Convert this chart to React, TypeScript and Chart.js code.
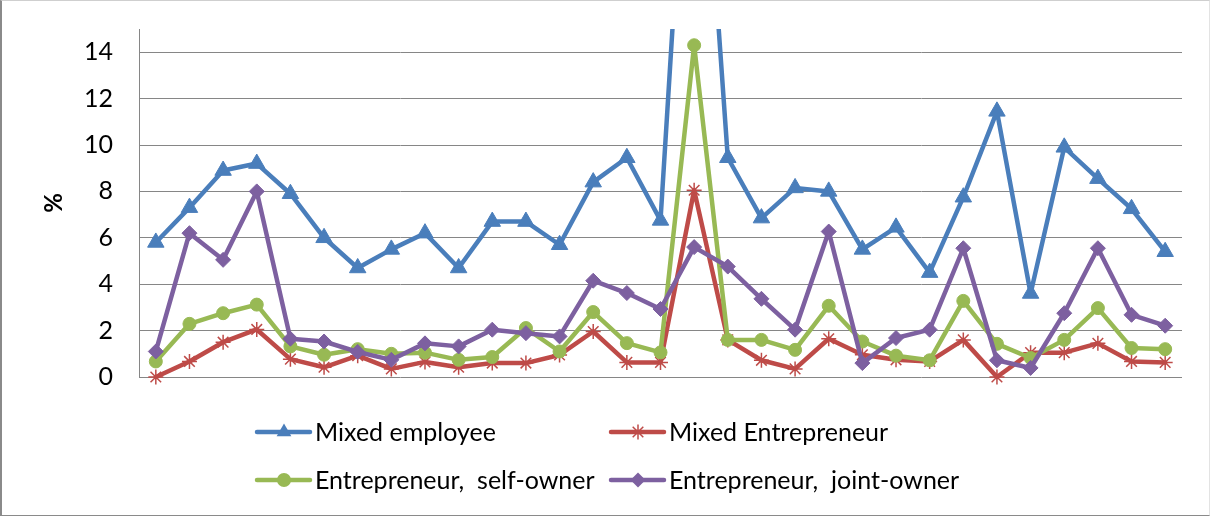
import React, { useEffect, useRef } from "react";
import { Chart, registerables } from "chart.js";

Chart.register(...registerables);

const categories = ["1","2","3","4","5","6","7","8","9","10","11","12","13","14","15","16","17","18","19","20","21","22","23","24","25","26","27","28","29","30","31"];

const mixedEmployee = [5.8, 7.3, 8.9, 9.2, 7.9, 6.0, 4.7, 5.5, 6.2, 4.7, 6.7, 6.7, 5.7, 8.4, 9.45, 6.75, 30, 9.45, 6.85, 8.15, 8.0, 5.5, 6.45, 4.5, 7.75, 11.45, 3.6, 9.9, 8.55, 7.25, 5.4];
const mixedEntrepreneur = [0, 0.67, 1.5, 2.05, 0.77, 0.42, 0.92, 0.35, 0.65, 0.42, 0.6, 0.6, 0.95, 1.96, 0.63, 0.63, 8.05, 1.6, 0.72, 0.35, 1.65, 0.96, 0.74, 0.67, 1.6, 0, 1.05, 1.05, 1.45, 0.67, 0.63];
const selfOwner = [0.67, 2.29, 2.75, 3.12, 1.32, 0.96, 1.2, 1.0, 1.05, 0.74, 0.86, 2.11, 1.1, 2.8, 1.46, 1.06, 14.3, 1.6, 1.6, 1.17, 3.07, 1.53, 0.92, 0.72, 3.28, 1.43, 0.82, 1.6, 2.97, 1.25, 1.2];
const jointOwner = [1.1, 6.2, 5.05, 8.0, 1.65, 1.53, 1.08, 0.74, 1.45, 1.32, 2.04, 1.89, 1.75, 4.15, 3.62, 2.93, 5.6, 4.76, 3.37, 2.04, 6.27, 0.6, 1.68, 2.04, 5.55, 0.72, 0.39, 2.75, 5.55, 2.68, 2.21];

const seriesNames = ["Mixed employee", "Mixed Entrepreneur", "Entrepreneur,  self-owner", "Entrepreneur,  joint-owner"];
const seriesColors = ["#4A7EBB", "#BE4B48", "#98B954", "#7D60A0"];
const seriesMarkers = ["triangle", "star", "circle", "rectRot"];
const yTicks = [0, 2, 4, 6, 8, 10, 12, 14];

const FONT = "Lato, 'Liberation Sans', sans-serif";

function drawMarker(ctx: CanvasRenderingContext2D, style: string, x: number, y: number, color: string) {
  ctx.save();
  ctx.fillStyle = color;
  ctx.strokeStyle = color;
  ctx.lineWidth = 1.5;
  ctx.beginPath();
  if (style === "triangle") {
    const r = 8.5;
    for (let k = 0; k < 3; k++) {
      const a = (k * 2 * Math.PI) / 3;
      const px = x + Math.sin(a) * r;
      const py = y - Math.cos(a) * r;
      if (k === 0) ctx.moveTo(px, py); else ctx.lineTo(px, py);
    }
    ctx.closePath();
    ctx.fill();
  } else if (style === "circle") {
    ctx.arc(x, y, 7, 0, Math.PI * 2);
    ctx.fill();
  } else if (style === "rectRot") {
    const r = 7.5;
    ctx.moveTo(x, y - r);
    ctx.lineTo(x + r, y);
    ctx.lineTo(x, y + r);
    ctx.lineTo(x - r, y);
    ctx.closePath();
    ctx.fill();
  } else {
    const r = 7.5;
    for (let k = 0; k < 4; k++) {
      const a = (k * Math.PI) / 4;
      ctx.moveTo(x - Math.cos(a) * r, y - Math.sin(a) * r);
      ctx.lineTo(x + Math.cos(a) * r, y + Math.sin(a) * r);
    }
    ctx.stroke();
  }
  ctx.restore();
}

const topClipPlugin = {
  id: "topClip",
  beforeDatasetsDraw(chart: any) {
    const ctx: CanvasRenderingContext2D = chart.ctx;
    ctx.save();
    ctx.beginPath();
    ctx.rect(0, chart.chartArea.top, chart.width, chart.height - chart.chartArea.top);
    ctx.clip();
  },
  afterDatasetsDraw(chart: any) {
    const ctx: CanvasRenderingContext2D = chart.ctx;
    ctx.restore();
    const a = chart.chartArea;
    ctx.save();
    ctx.fillStyle = "#ffffff";
    ctx.fillRect(a.left + 1, 0, chart.width - a.left - 1, a.top);
    ctx.restore();
  },
};

const legendPlugin = {
  id: "gridLegend",
  afterDraw(chart: any) {
    const ctx: CanvasRenderingContext2D = chart.ctx;
    const colX = [257, 611];
    const rowY = [432, 480];
    chart.data.datasets.forEach((ds: any, i: number) => {
      const col = i % 2;
      const row = Math.floor(i / 2);
      const x0 = colX[col];
      const y = rowY[row];
      ctx.save();
      ctx.strokeStyle = ds.borderColor;
      ctx.lineWidth = 4.5;
      ctx.lineCap = "round";
      ctx.beginPath();
      ctx.moveTo(x0, y);
      ctx.lineTo(x0 + 53, y);
      ctx.stroke();
      ctx.restore();
      drawMarker(ctx, seriesMarkers[i], x0 + 27, y, ds.borderColor);
      ctx.save();
      ctx.fillStyle = "#000";
      ctx.font = `25px ${FONT}`;
      ctx.textBaseline = "middle";
      ctx.textAlign = "left";
      ctx.fillText(ds.label, x0 + 58, y + 1);
      ctx.restore();
    });
  },
};

export default function App() {
  const ref = useRef<HTMLCanvasElement | null>(null);
  useEffect(() => {
    if (!ref.current) return;
    const allSeries = [mixedEmployee, mixedEntrepreneur, selfOwner, jointOwner];
    const chart = new Chart(ref.current, {
      type: "line",
      data: {
        labels: categories,
        datasets: allSeries.map((d, i) => ({
          label: seriesNames[i],
          data: d,
          borderColor: seriesColors[i],
          backgroundColor: seriesColors[i],
          borderWidth: 4.5,
          borderJoinStyle: "round" as any,
          borderCapStyle: "round" as any,
          pointStyle: seriesMarkers[i] as any,
          pointRadius: i === 0 ? 9.5 : i === 2 ? 6.5 : 7.5,
          pointBackgroundColor: seriesColors[i],
          pointBorderColor: seriesColors[i],
          pointBorderWidth: i === 1 ? 1.5 : 1,
          tension: 0,
          order: 4 - i,
          clip: false as any,
        })),
      },
      options: {
        responsive: false,
        animation: false,
        events: [],
        layout: { padding: { left: 0, top: 29, right: 28, bottom: 139 } },
        plugins: { legend: { display: false }, tooltip: { enabled: false } },
        scales: {
          x: { display: false, offset: true },
          y: {
            min: 0,
            max: 15,
            afterFit: (scale: any) => { scale.width = 139; scale.paddingTop = 0; scale.paddingBottom = 0; },
            afterBuildTicks: (scale: any) => { scale.ticks = yTicks.map((v) => ({ value: v })); },
            ticks: { stepSize: 2, includeBounds: false, padding: 26, color: "#000", font: { family: FONT, size: 25 } },
            grid: { color: "#868686", lineWidth: 1, drawTicks: false },
            border: { display: true, color: "#868686", width: 1 },
            title: { display: true, text: "%", color: "#000", font: { family: FONT, size: 24, weight: "bold" }, padding: { top: 40, bottom: 0 } },
          },
        },
      },
      plugins: [topClipPlugin, legendPlugin],
    });
    return () => chart.destroy();
  }, []);
  return (
    <div style={{ position: "absolute", left: 0, top: 0, width: 1210, height: 516, background: "#fff" }}>
      <canvas ref={ref} width={1210} height={516} style={{ position: "absolute", left: 0, top: 0 }} />
      <div style={{ position: "absolute", left: 0, top: 0, width: 1210, height: 516, boxSizing: "border-box", borderLeft: "2px solid #8a8a8a", borderBottom: "1px solid #8a8a8a", borderTop: "1px solid #cfcfcf", borderRight: "1px solid #e3e3e3", pointerEvents: "none" }} />
    </div>
  );
}
